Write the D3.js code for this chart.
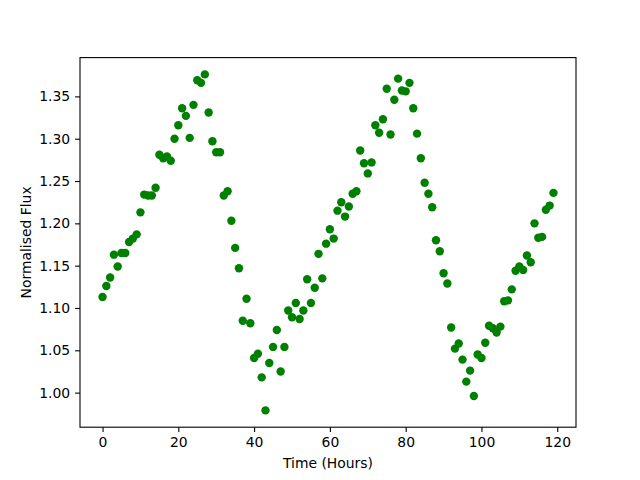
<!DOCTYPE html>
<html>
<head>
<meta charset="utf-8">
<script src="https://cdn.jsdelivr.net/npm/d3@7"></script>
<style>
  body { margin: 0; background: #fff; }
  svg { font-family: "DejaVu Sans", sans-serif; }
</style>
</head>
<body>
<div id="chart"></div>
<script>
// hourly samples, 0..119
const hours = d3.range(0, 120);
const flux = [
  1.113, 1.126, 1.136, 1.163, 1.149, 1.165, 1.165, 1.178, 1.182, 1.187,
  1.213, 1.234, 1.233, 1.233, 1.242, 1.281, 1.277, 1.279, 1.274, 1.300,
  1.316, 1.336, 1.327, 1.301, 1.340, 1.369, 1.366, 1.376, 1.331, 1.297,
  1.284, 1.284, 1.233, 1.238, 1.203, 1.171, 1.147, 1.085, 1.111, 1.082,
  1.041, 1.046, 1.018, 0.979, 1.035, 1.054, 1.074, 1.025, 1.054, 1.097,
  1.089, 1.106, 1.087, 1.097, 1.134, 1.106, 1.124, 1.164, 1.135, 1.176,
  1.193, 1.182, 1.215, 1.225, 1.208, 1.220, 1.235, 1.238, 1.286, 1.271,
  1.259, 1.272, 1.316, 1.307, 1.323, 1.359, 1.305, 1.346, 1.371, 1.357,
  1.356, 1.366, 1.336, 1.306, 1.277, 1.248, 1.235, 1.219, 1.180, 1.167,
  1.141, 1.129, 1.077, 1.052, 1.058, 1.039, 1.013, 1.026, 0.996, 1.045,
  1.041, 1.059, 1.079, 1.076, 1.071, 1.078, 1.108, 1.109, 1.122, 1.144,
  1.149, 1.145, 1.162, 1.154, 1.200, 1.183, 1.184, 1.216, 1.221, 1.236
];
const xTicks = [0, 20, 40, 60, 80, 100, 120];
const yTicks = [1.00, 1.05, 1.10, 1.15, 1.20, 1.25, 1.30, 1.35];

const W = 640, H = 480;
const m = { left: 80, right: 64, top: 57.6, bottom: 52.8 };

// matplotlib style 5% padding
function pad(ext) {
  const d = (ext[1] - ext[0]) * 0.05;
  return [ext[0] - d, ext[1] + d];
}

const x = d3.scaleLinear().domain(pad(d3.extent(hours))).range([m.left, W - m.right]);
const y = d3.scaleLinear().domain(pad(d3.extent(flux))).range([H - m.bottom, m.top]);

const svg = d3.select('#chart').append('svg').attr('width', W).attr('height', H);

svg.append('g')
  .selectAll('circle').data(hours).enter().append('circle')
  .attr('cx', d => x(d))
  .attr('cy', (d, i) => y(flux[i]))
  .attr('r', 4.2)
  .attr('fill', '#008000');

const xAxis = svg.append('g').attr('transform', `translate(0,${H - m.bottom})`)
  .call(d3.axisBottom(x).tickValues(xTicks).tickSize(4.9).tickPadding(4.9).tickSizeOuter(0));
const yAxis = svg.append('g').attr('transform', `translate(${m.left},0)`)
  .call(d3.axisLeft(y).tickValues(yTicks).tickFormat(d3.format('.2f')).tickSize(4.9).tickPadding(4.9).tickSizeOuter(0));

[xAxis, yAxis].forEach(a => {
  a.select('.domain').remove();
  a.selectAll('line').attr('stroke', '#000').attr('stroke-width', 1.1);
  a.selectAll('text').attr('font-size', 13.9).attr('fill', '#000').attr('font-family', 'DejaVu Sans');
});

// frame
svg.append('rect')
  .attr('x', m.left).attr('y', m.top)
  .attr('width', W - m.left - m.right).attr('height', H - m.top - m.bottom)
  .attr('fill', 'none').attr('stroke', '#000').attr('stroke-width', 1.1);

svg.append('text')
  .attr('x', (m.left + W - m.right) / 2).attr('y', 468)
  .attr('text-anchor', 'middle').attr('font-size', 13.9)
  .text('Time (Hours)');

svg.append('text')
  .attr('transform', `translate(31,${(m.top + H - m.bottom) / 2}) rotate(-90)`)
  .attr('text-anchor', 'middle').attr('font-size', 13.9)
  .text('Normalised Flux');
</script>
</body>
</html>
